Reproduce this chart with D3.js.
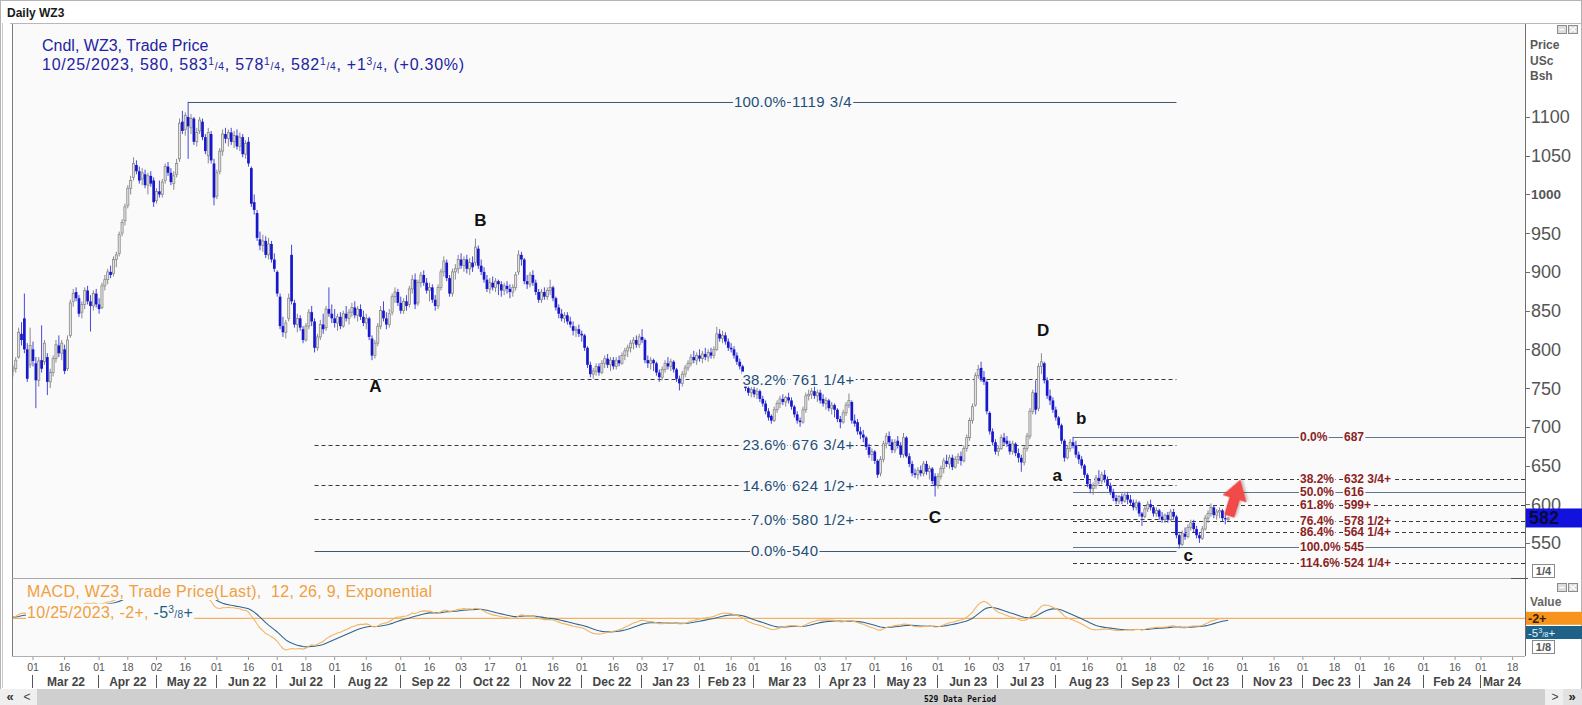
<!DOCTYPE html>
<html><head><meta charset="utf-8">
<script src="https://cdn.jsdelivr.net/npm/d3@7"></script>
<style>
html,body{margin:0;padding:0;background:#fff;}
svg{display:block;font-family:"Liberation Sans",Arial,sans-serif;}
</style></head><body>
<svg id="c" width="1582" height="705"></svg>
<script>
// ---------------- DATA ----------------
// daily candles, Feb 17 2022 .. Oct 25 2023 (trading days)
const opens = [
 772,775,790,820,840,800,780,
 800,782,760,786,784,790,758,770,788,805,795,800,775,818,862,874,866,848,858,876,862,856,872,
 858,854,882,890,900,898,916,924,950,966,986,1008,1022,1038,1030,1020,1026,1012,1024,1018,
 992,1004,1000,1018,1036,1028,1014,1026,1046,1094,1084,1100,1086,1098,1068,1082,1094,1074,1050,1078,1040,
 998,1030,1056,1078,1072,1080,1068,1076,1062,1074,1052,1068,1034,990,976,942,934,940,922,936,916,
 900,868,830,822,840,922,860,832,840,826,812,830,848,836,802,816,832,828,852,846,
 840,834,842,830,846,840,848,854,844,852,842,834,840,814,792,808,830,850,840,832,848,868,874,
 860,850,862,858,878,890,860,886,896,886,876,880,864,856,880,900,912,892,872,900,904,
 916,908,916,904,912,912,930,908,900,890,878,886,880,888,884,876,882,878,874,880,
 900,922,916,888,884,896,886,874,864,874,868,876,880,866,854,846,840,844,836,830,824,
 826,820,818,802,780,768,772,778,770,782,788,780,786,778,786,782,792,798,802,808,812,
 806,816,812,786,782,786,782,770,764,774,782,778,784,774,762,756,768,776,782,
 790,786,792,788,794,790,796,792,800,820,814,818,810,802,800,792,784,778,768,
 750,744,748,742,746,736,730,720,714,708,722,730,736,732,738,734,726,716,708,706,722,740,742,
 746,740,744,736,730,734,724,728,722,710,706,718,728,732,708,706,694,690,
 686,674,664,668,656,640,658,678,688,680,670,682,676,664,686,662,652,640,638,644,640,652,642,646,
 636,624,636,646,656,652,660,648,658,662,656,672,686,708,728,766,776,764,758,718,694,
 680,668,672,686,682,678,668,678,666,660,654,672,688,720,744,724,778,782,760,740,
 734,722,712,702,682,660,672,680,676,664,658,650,638,626,620,624,634,630,638,632,624,616,608,
 604,610,604,612,606,602,596,602,588,584,594,600,596,588,592,584,580,586,580,590,
 584,560,548,562,558,570,576,568,560,556,568,582,588,596,586,590,592,582,580
];
const highs = [
 780,790,828,835,872,808,828,
 810,790,790,831,812,795,775,792,812,818,812,806,818,864,878,880,870,862,880,882,870,876,878,
 866,886,896,904,908,920,926,952,968,988,1012,1024,1048,1044,1036,1034,1032,1028,1030,1022,
 1008,1018,1020,1040,1042,1034,1030,1046,1098,1108,1106,1119.75,1104,1100,1086,1100,1098,1078,1086,1082,1046,
 1032,1060,1084,1086,1084,1086,1082,1084,1080,1078,1070,1074,1036,1000,980,952,948,946,944,940,924,
 902,872,842,838,872,935,864,846,844,830,834,852,856,840,820,838,846,856,880,858,
 852,846,848,850,856,852,860,862,856,858,850,846,842,818,812,834,856,862,848,852,872,880,878,
 868,866,870,882,896,898,890,900,902,892,886,884,870,884,904,920,916,896,904,910,922,
 924,920,922,918,920,943,934,916,906,896,892,894,892,890,888,886,888,884,884,900,
 928,926,918,896,900,902,890,878,878,880,880,890,882,868,858,852,848,848,842,836,830,
 832,824,820,804,784,776,782,782,786,792,794,790,790,790,792,796,802,806,812,816,818,
 820,826,814,792,790,788,784,774,778,786,790,788,786,776,766,772,780,786,794,
 798,796,800,798,802,800,802,804,829,826,824,822,814,808,804,796,788,780,770,
 756,752,752,750,748,740,734,724,716,726,734,740,742,740,744,738,728,720,712,726,744,748,750,
 752,748,748,742,738,736,732,730,724,714,722,732,743,734,716,710,700,696,
 688,678,672,670,658,662,682,692,694,684,684,688,680,692,688,666,656,646,648,650,656,656,650,648,
 640,640,650,660,664,664,664,662,666,668,676,690,712,730,770,780,784,772,760,720,698,
 684,676,690,692,688,682,682,680,672,664,676,692,724,748,760,782,795,784,764,748,
 738,726,714,704,684,676,684,687,682,668,662,652,640,632,628,638,644,642,644,636,628,620,612,
 612,614,616,616,612,606,606,604,590,598,604,606,598,596,594,590,588,590,594,594,
 586,562,566,570,574,580,580,572,564,572,586,592,601,598,594,596,594,586,583.25
];
const lows = [
 765,770,788,805,795,758,776,
 778,724,752,770,780,741,750,765,783,790,786,768,772,815,855,862,842,840,852,858,823,850,854,
 846,852,876,884,892,894,906,920,946,960,982,1000,1018,1026,1014,1012,1008,1000,1010,984,
 988,996,996,1014,1024,1012,1006,1022,1042,1078,1076,1046,1078,1064,1062,1078,1070,1052,1040,1040,986,
 994,1026,1050,1066,1062,1064,1060,1058,1056,1048,1046,1036,984,974,940,928,926,918,916,912,900,
 868,826,816,814,836,858,828,822,824,808,810,826,830,796,798,812,820,824,842,834,
 828,824,826,828,836,832,842,840,836,838,830,826,812,786,788,804,826,836,826,828,844,860,856,
 846,846,850,854,872,852,856,880,882,872,862,860,850,852,876,894,888,868,868,890,898,
 904,900,898,896,900,908,904,896,886,874,872,876,874,870,868,870,872,866,868,876,
 896,908,884,878,880,882,870,860,860,864,864,870,862,850,840,836,834,832,828,818,816,
 816,810,798,776,764,762,766,766,768,776,776,772,774,774,778,780,786,790,796,800,802,
 802,808,782,776,774,772,766,758,760,770,774,772,770,758,747,752,764,772,778,
 782,780,784,782,786,784,788,788,798,810,808,806,798,796,788,780,774,764,746,
 740,738,738,736,732,726,716,708,704,706,718,724,728,726,730,722,712,704,700,704,718,734,736,
 736,732,730,726,722,720,716,712,706,698,704,714,724,704,700,690,684,680,
 670,660,656,652,634,636,654,672,676,666,666,672,660,660,660,648,636,634,632,636,636,638,632,626,
 610,620,632,640,648,646,644,646,652,650,654,668,682,704,726,762,758,754,716,690,676,
 664,662,670,676,674,664,664,662,654,642,650,668,684,716,716,720,768,756,736,728,
 718,708,698,678,655,658,668,672,660,652,646,634,622,614,612,620,626,626,628,620,612,604,600,
 600,600,602,600,598,592,592,584,572,582,590,592,584,584,580,576,576,576,578,580,
 556,543,546,554,556,566,564,556,550,554,566,576,584,582,580,582,578,574,578.25
];
const closes = [
 776,786,822,812,800,762,805,
 785,760,785,775,808,758,770,788,806,795,808,772,812,860,872,866,846,858,876,862,856,872,858,
 852,882,890,900,896,916,922,948,964,984,1008,1018,1040,1030,1018,1028,1012,1024,1014,990,
 1004,1000,1016,1036,1028,1016,1024,1040,1092,1082,1102,1088,1098,1068,1080,1096,1074,1056,1080,1044,996,
 1028,1056,1078,1072,1080,1068,1076,1062,1074,1052,1066,1040,988,980,944,934,940,922,936,916,904,
 872,830,822,834,866,862,832,840,828,812,830,848,836,802,816,832,826,852,846,840,
 834,842,830,846,840,848,854,844,852,842,834,840,816,792,808,830,850,840,832,846,868,874,860,
 850,862,856,878,890,858,886,896,886,876,880,864,856,880,900,914,892,872,900,904,916,
 908,916,904,912,906,932,908,900,890,878,886,880,888,884,876,882,878,874,880,896,
 922,916,888,884,896,886,874,864,874,868,876,880,866,854,846,840,844,836,832,824,826,
 820,818,802,780,768,772,778,770,782,788,780,786,778,786,782,792,798,802,808,812,806,
 816,812,786,782,786,782,770,764,774,782,778,784,774,762,756,768,776,782,790,
 786,792,788,794,790,796,792,800,820,814,818,810,802,800,792,784,778,768,750,
 744,748,742,746,736,730,720,712,708,722,730,736,732,738,734,726,716,708,706,722,740,742,746,
 740,744,734,730,734,724,728,722,710,706,718,728,734,708,704,694,690,686,
 674,664,668,656,638,658,678,688,680,670,680,676,664,686,662,652,640,638,644,640,652,642,646,630,
 624,636,646,656,652,660,648,658,662,656,672,686,708,726,766,774,762,758,720,694,680,
 668,672,686,680,678,668,678,666,660,654,672,688,720,744,722,778,784,760,740,734,
 722,712,702,682,660,672,680,676,664,658,650,638,626,620,624,634,630,638,632,624,616,608,604,
 610,604,612,606,602,596,602,588,584,594,600,596,588,592,584,580,586,580,590,584,
 560,548,562,558,570,576,568,560,556,568,582,588,596,586,590,592,582,580.5,582.25
];

// calendar (exchange holidays skipped)
const firstDay = '2022-02-17', lastCalendarDay = '2024-03-29';
const holidays = ['2022-02-21','2022-04-15','2022-05-30','2022-06-20','2022-07-04','2022-09-05','2022-11-24','2022-12-26',
  '2023-01-02','2023-01-16','2023-02-20','2023-04-07','2023-05-29','2023-06-19','2023-07-04','2023-09-04',
  '2023-11-23','2023-12-25','2024-01-15','2024-02-19'];

// axis tick labels
const priceTicks = [550,600,650,700,750,800,850,900,950,1000,1050,1100];
const dayTicks = ['2022-03-01','2022-03-16','2022-04-01','2022-04-18','2022-05-02','2022-05-16','2022-06-01','2022-06-16',
 '2022-07-01','2022-07-18','2022-08-01','2022-08-16','2022-09-01','2022-09-16','2022-10-03','2022-10-17','2022-11-01','2022-11-16',
 '2022-12-01','2022-12-16','2023-01-03','2023-01-17','2023-02-01','2023-02-16','2023-03-01','2023-03-16','2023-04-03','2023-04-17',
 '2023-05-01','2023-05-16','2023-06-01','2023-06-16','2023-07-03','2023-07-17','2023-08-01','2023-08-16','2023-09-01','2023-09-18',
 '2023-10-02','2023-10-16','2023-11-01','2023-11-16','2023-12-01','2023-12-18','2024-01-01','2024-01-16','2024-02-01','2024-02-16',
 '2024-03-01','2024-03-18'];
const monthStarts = ['2022-03-01','2022-04-01','2022-05-02','2022-06-01','2022-07-01','2022-08-01','2022-09-01','2022-10-03',
 '2022-11-01','2022-12-01','2023-01-03','2023-02-01','2023-03-01','2023-04-03','2023-05-01','2023-06-01','2023-07-03','2023-08-01',
 '2023-09-01','2023-10-02','2023-11-01','2023-12-01','2024-01-01','2024-02-01','2024-03-01'];
const monthLabels = ['Mar 22','Apr 22','May 22','Jun 22','Jul 22','Aug 22','Sep 22','Oct 22','Nov 22','Dec 22','Jan 23','Feb 23',
 'Mar 23','Apr 23','May 23','Jun 23','Jul 23','Aug 23','Sep 23','Oct 23','Nov 23','Dec 23','Jan 24','Feb 24','Mar 24'];

// Fibonacci sets (levels in cents, spans in candle positions)
const fibLeftPct = ['100.0%','38.2%','23.6%','14.6%','7.0%','0.0%'];
const fibLeftTxt = ['1119 3/4','761 1/4+','676 3/4+','624 1/2+','580 1/2+','540'];
const fibLeftLvl = [1119.75,761.25,676.75,624.5,580.5,540];
const fibLeftDash = [false,true,true,true,true,false];
const fibLeftFrom = [61,105,105,105,105,105];
const fibLeftTo = 405;
const fibRightPct = ['0.0%','38.2%','50.0%','61.8%','76.4%','86.4%','100.0%','114.6%'];
const fibRightTxt = ['687','632 3/4+','616','599+','578 1/2+','564 1/4+','545','524 1/4+'];
const fibRightLvl = [687,632.75,616,599,578.5,564.25,545,524.25];
const fibRightDash = [false,true,false,true,true,true,false,true];
const fibRightFrom = 369;

// wave labels (candle position, price)
const waveTxt = ['A','B','C','D','a','b','c'];
const wavePos = [126.2,162.7,320.9,358.6,363.5,371.8,409.1];
const wavePrice = [752.7,967,583.5,825,637.7,711.3,534.4];
// red arrow (position, price) from -> to
const arrowFrom = [423.4,585], arrowTo = [427.2,631];

const macdLastValue = -2;

// ---------------- BUILD ----------------
const hol = new Set(holidays);
const days = [];
{
  const d = new Date(firstDay+'T00:00:00Z'), end = new Date(lastCalendarDay+'T00:00:00Z');
  for (; d <= end; d.setUTCDate(d.getUTCDate()+1)) {
    const wd = d.getUTCDay(); if (wd===0||wd===6) continue;
    const s = d.toISOString().slice(0,10); if (hol.has(s)) continue;
    days.push(s);
  }
}
const posOf = s => days.indexOf(s);
const N = closes.length;

const svg = d3.select('#c');
const L = 12, R = 1525, TOP = 24, PB = 578, MT = 579, MB = 656;
const x = d3.scaleLinear().domain([7, 423]).range([33, 33 + 416*2.873]);
const y = d3.scaleLinear().domain([540, 1100]).range([550.7, 117]);

// frame
svg.append('rect').attr('width',1582).attr('height',705).attr('fill','#fff');
svg.append('rect').attr('x',0.5).attr('y',0.5).attr('width',1581).attr('height',704).attr('fill','none').attr('stroke','#b4b4b4');
svg.append('text').attr('x',7).attr('y',17).attr('font-size',12).attr('font-weight','bold').attr('fill','#1a1a1a').text('Daily WZ3');
svg.append('line').attr('x1',10).attr('x2',1582).attr('y1',23.5).attr('y2',23.5).attr('stroke','#b8b8b8');
svg.append('line').attr('x1',2.5).attr('x2',2.5).attr('y1',23).attr('y2',688).attr('stroke','#c8c8c8');
svg.append('rect').attr('x',L).attr('y',TOP).attr('width',R-L).attr('height',MB-TOP).attr('fill','#fafafa');

const defs = svg.append('defs');
defs.append('clipPath').attr('id','cp').append('rect').attr('x',L).attr('y',TOP).attr('width',R-L).attr('height',PB-TOP);
defs.append('clipPath').attr('id','cm').append('rect').attr('x',L).attr('y',MT).attr('width',R-L).attr('height',MB-MT);
const f = defs.append('filter').attr('id','sh').attr('x','-50%').attr('y','-50%').attr('width','200%').attr('height','200%');
f.append('feDropShadow').attr('dx',1.5).attr('dy',1.5).attr('stdDeviation',1.2).attr('flood-color','#000').attr('flood-opacity',0.25);

// helper: text with optional background
function label(g, tx, ty, txt, o) {
  const t = g.append('text').attr('x',tx).attr('y',ty).attr('dy','0.35em')
    .attr('font-size',o.size).attr('font-weight',o.weight||'normal').attr('fill',o.fill)
    .attr('letter-spacing',o.ls||0).attr('text-anchor',o.anchor||'start').text(txt);
  if (o.bg) {
    const b = t.node().getBBox();
    g.insert('rect',function(){return t.node();}).attr('x',b.x-1).attr('y',b.y+1).attr('width',b.width+2).attr('height',b.height-2).attr('fill',o.bg);
  }
  return t;
}
function rich(g, tx, ty, parts, size, bg, ls) {
  const t = g.append('text').attr('x',tx).attr('y',ty).attr('font-size',size).attr('letter-spacing',ls||0);
  parts.forEach(p => {
    if (p.f) {
      t.append('tspan').attr('font-size',size*0.64).attr('dy',-size*0.33).attr('fill',p.c).text(p.f[0]);
      t.append('tspan').attr('font-size',size*0.64).attr('dy',size*0.33).attr('fill',p.c).text('/'+p.f[1]);
    } else t.append('tspan').attr('fill',p.c).text(p.t);
  });
  if (bg) {
    const b = t.node().getBBox();
    g.insert('rect',function(){return t.node();}).attr('x',b.x-1).attr('y',b.y).attr('width',b.width+2).attr('height',b.height).attr('fill',bg);
  }
  return t;
}

// ---------- price panel ----------
const gP = svg.append('g').attr('clip-path','url(#cp)');

// fib lines
const gFib = gP.append('g');
fibLeftLvl.forEach((lv,i) => {
  gFib.append('line').attr('x1',x(fibLeftFrom[i])).attr('x2',x(fibLeftTo)).attr('y1',Math.round(y(lv))+0.5).attr('y2',Math.round(y(lv))+0.5)
    .attr('stroke',fibLeftDash[i]?'#3a3a3a':'#3f586e').attr('stroke-width',1).attr('stroke-dasharray',fibLeftDash[i]?'4,3':null);
});
fibRightLvl.forEach((lv,i) => {
  gFib.append('line').attr('x1',x(fibRightFrom)).attr('x2',R).attr('y1',Math.round(y(lv))+0.5).attr('y2',Math.round(y(lv))+0.5)
    .attr('stroke',fibRightDash[i]?'#3a3a3a':'#5d7790').attr('stroke-width',1).attr('stroke-dasharray',fibRightDash[i]?'4,3':null);
});

// candles
const gC = gP.append('g');
const idx = d3.range(N);
const isUp = i => closes[i] >= opens[i];
gC.selectAll('line.w').data(idx).join('line').attr('class','w')
  .attr('x1',i=>x(i)).attr('x2',i=>x(i)).attr('y1',i=>y(highs[i])).attr('y2',i=>y(lows[i]))
  .attr('stroke',i=>isUp(i)?'#8a8a8a':'#4848d8').attr('stroke-width',1);
gC.selectAll('rect.b').data(idx).join('rect').attr('class','b')
  .attr('x',i=>isUp(i)?x(i)-1.05:x(i)-1.35)
  .attr('width',i=>isUp(i)?2.1:2.7)
  .attr('y',i=>y(Math.max(opens[i],closes[i])))
  .attr('height',i=>Math.max(1,y(Math.min(opens[i],closes[i]))-y(Math.max(opens[i],closes[i]))))
  .attr('fill',i=>isUp(i)?'#e2e2e2':'#1717cc')
  .attr('stroke',i=>isUp(i)?'#858585':'none').attr('stroke-width',0.75);

// fib labels (drawn above candles)
const gFibL = gP.append('g');
fibLeftLvl.forEach((lv,i) => {
  label(gFibL, 786, y(lv), fibLeftPct[i], {size:15, fill:'#1f4e79', anchor:'end', bg:'#fafafa', ls:0.2});
  label(gFibL, 792, y(lv), fibLeftTxt[i], {size:15, fill:'#1f4e79', bg:'#fafafa', ls:0.5});
});
fibRightLvl.forEach((lv,i) => {
  label(gFibL, 1300, y(lv), fibRightPct[i], {size:12, weight:'bold', fill:'#8b1f1f', bg:'#fafafa'});
  label(gFibL, 1344, y(lv), fibRightTxt[i], {size:12, weight:'bold', fill:'#8b1f1f', bg:'#fafafa'});
});

// wave labels
waveTxt.forEach((t,i) => {
  gP.append('text').attr('x',x(wavePos[i])).attr('y',y(wavePrice[i])).attr('dy','0.36em').attr('text-anchor','middle')
    .attr('font-size',17).attr('font-weight','bold').attr('fill','#111').text(t);
});

// red arrow
{
  const x0 = x(arrowFrom[0]), y0 = y(arrowFrom[1]), x1 = x(arrowTo[0]), y1 = y(arrowTo[1]);
  const len = Math.hypot(x1-x0, y1-y0), ang = Math.atan2(y1-y0, x1-x0)*180/Math.PI;
  const hl = 19, sw = 5, hw = 12;
  const pts = [[0,-sw],[len-hl,-sw],[len-hl,-hw],[len,0],[len-hl,hw],[len-hl,sw],[0,sw]];
  gP.append('polygon').attr('points',pts.map(p=>p.join(',')).join(' '))
    .attr('transform',`translate(${x0},${y0}) rotate(${ang})`)
    .attr('fill','#f24a4a').attr('stroke','#e23636').attr('stroke-width',0.6).attr('filter','url(#sh)');
}

// header texts
const blue = '#2323a3';
rich(svg, 42, 51, [{t:'Cndl, WZ3, Trade Price', c:blue}], 16);
rich(svg, 42, 70, [{t:'10/25/2023, 580, 583',c:blue},{f:[1,4],c:blue},{t:', 578',c:blue},{f:[1,4],c:blue},
  {t:', 582',c:blue},{f:[1,4],c:blue},{t:', +1',c:blue},{f:[3,4],c:blue},{t:', (+0.30%)',c:blue}], 16, null, 0.75);

// ---------- MACD ----------
function ema(a, n) { const k = 2/(n+1); const out = []; let p = a[0]; a.forEach((v,i)=>{ p = i===0 ? v : v*k + p*(1-k); out.push(p); }); return out; }
const e12 = ema(closes,12), e26 = ema(closes,26);
const macd = e12.map((v,i)=>v-e26[i]);
const signal = ema(macd,9);
const yM = d3.scaleLinear().domain([macdLastValue, d3.min(macd)]).range([618.3, 650]);
const gM = svg.append('g').attr('clip-path','url(#cm)');
gM.append('line').attr('x1',L).attr('x2',R).attr('y1',yM(macdLastValue)).attr('y2',yM(macdLastValue)).attr('stroke','#f0a040').attr('stroke-width',1);
gM.append('path').attr('d',d3.line().x((d,i)=>x(i)).y(d=>yM(d))(signal)).attr('fill','none').attr('stroke','#2f6690').attr('stroke-width',1.1);
gM.append('path').attr('d',d3.line().x((d,i)=>x(i)).y(d=>yM(d))(macd)).attr('fill','none').attr('stroke','#f2b463').attr('stroke-width',1.1);
rich(gM, 27, 597, [{t:'MACD, WZ3, Trade Price(Last),\u00a0\u00a012, 26, 9, Exponential', c:'#f0a040'}], 16, '#fafafa', 0.3);
rich(gM, 27, 618, [{t:'10/25/2023, -2+, ', c:'#f0a040'},{t:'-5',c:'#1f5f85'},{f:[3,8],c:'#1f5f85'},{t:'+',c:'#1f5f85'}], 16, '#fafafa', 0.3);

// ---------- panel lines ----------
svg.append('line').attr('x1',12.5).attr('x2',12.5).attr('y1',TOP).attr('y2',MB).attr('stroke','#7a7a7a');
svg.append('line').attr('x1',L).attr('x2',R).attr('y1',PB+0.5).attr('y2',PB+0.5).attr('stroke','#a8a8a8');
svg.append('line').attr('x1',L).attr('x2',R).attr('y1',MB+0.5).attr('y2',MB+0.5).attr('stroke','#b0b0b0');
svg.append('line').attr('x1',R+0.5).attr('x2',R+0.5).attr('y1',TOP).attr('y2',PB).attr('stroke','#6e6e6e');
svg.append('line').attr('x1',R+0.5).attr('x2',R+0.5).attr('y1',MT).attr('y2',MB).attr('stroke','#6e6e6e');
svg.append('line').attr('x1',R-14).attr('x2',R+3).attr('y1',PB+0.5).attr('y2',PB+0.5).attr('stroke','#555');

// ---------- right price axis ----------
const gA = svg.append('g');
['Price','USc','Bsh'].forEach((t,i)=> gA.append('text').attr('x',1530).attr('y',49+i*15.5).attr('font-size',12).attr('font-weight','bold').attr('fill','#5a5a5a').text(t));
priceTicks.forEach(p => {
  gA.append('line').attr('x1',R).attr('x2',R+5).attr('y1',Math.round(y(p))+0.5).attr('y2',Math.round(y(p))+0.5).attr('stroke','#6e6e6e');
  const bold = p===1000;
  gA.append('text').attr('x',1531).attr('y',y(p)).attr('dy','0.36em').attr('font-size',bold?13.5:18).attr('font-weight',bold?'bold':'normal')
    .attr('fill','#555').text(p);
});
// last price box (covers part of the 600 label as in the original)
gA.append('rect').attr('x',R+1).attr('y',y(closes[N-1])-9.5).attr('width',1582-R-1).attr('height',19).attr('fill','#1212dc');
gA.append('text').attr('x',1529).attr('y',y(closes[N-1])).attr('dy','0.36em').attr('font-size',18).attr('font-weight','bold').attr('fill','#0a0a3a').text('582');
function smallBox(bx, by, t) {
  gA.append('rect').attr('x',bx+0.5).attr('y',by+0.5).attr('width',22).attr('height',13).attr('fill','#fff').attr('stroke','#8a8a8a');
  gA.append('text').attr('x',bx+11.5).attr('y',by+11).attr('text-anchor','middle').attr('font-size',11).attr('font-weight','bold').attr('fill','#555').text(t);
}
smallBox(1532, 564, '1/4');
function icons(iy) {
  gA.append('rect').attr('x',1557.5).attr('y',iy+0.5).attr('width',9).attr('height',8).attr('fill','#dcdcdc').attr('stroke','#8c8c8c');
  gA.append('line').attr('x1',1559.5).attr('x2',1564.5).attr('y1',iy+4.5).attr('y2',iy+4.5).attr('stroke','#fff').attr('stroke-width',1.5);
  gA.append('rect').attr('x',1568.5).attr('y',iy+0.5).attr('width',9).attr('height',8).attr('fill','#dcdcdc').attr('stroke','#8c8c8c');
  gA.append('path').attr('d',`M1570,${iy+2}L1576,${iy+7}M1576,${iy+2}L1570,${iy+7}`).attr('stroke','#fff').attr('stroke-width',1.3);
}
icons(25); icons(583);
gA.append('text').attr('x',1530).attr('y',606).attr('font-size',12).attr('font-weight','bold').attr('fill','#666').text('Value');
gA.append('rect').attr('x',R+1).attr('y',611.8).attr('width',1582-R-1).attr('height',13).attr('fill','#f7941d');
gA.append('text').attr('x',1528).attr('y',622.5).attr('font-size',12.5).attr('font-weight','bold').attr('fill','#3a1f00').text('-2+');
gA.append('rect').attr('x',R+1).attr('y',626).attr('width',1582-R-1).attr('height',13).attr('fill','#1f6288');
rich(gA, 1528, 636.5, [{t:'-5',c:'#e6f4ff'},{f:[3,8],c:'#e6f4ff'},{t:'+',c:'#e6f4ff'}], 11.5);
smallBox(1532, 640, '1/8');

// ---------- time axis ----------
const gX = svg.append('g');
dayTicks.forEach(d => {
  const px = x(posOf(d));
  gX.append('line').attr('x1',px).attr('x2',px).attr('y1',657).attr('y2',660).attr('stroke','#9a9a9a');
  gX.append('text').attr('x',px).attr('y',671).attr('text-anchor','middle').attr('font-size',10.5).attr('fill','#555').text(d.slice(8));
});
monthStarts.forEach((d,i) => {
  const p0 = x(posOf(d));
  const last = i === monthStarts.length-1;
  const p1 = last ? R : x(posOf(monthStarts[i+1]));
  gX.append('line').attr('x1',Math.round(p0)-0.5).attr('x2',Math.round(p0)-0.5).attr('y1',675).attr('y2',688).attr('stroke','#555');
  gX.append('text').attr('x',last ? p0+2 : (p0+p1)/2).attr('y',685.5).attr('text-anchor',last?'start':'middle')
    .attr('font-size',12).attr('font-weight','bold').attr('fill','#444').text(monthLabels[i]);
});

// ---------- scrollbar ----------
svg.append('rect').attr('x',0).attr('y',689).attr('width',1582).attr('height',16).attr('fill','#efefef');
svg.append('rect').attr('x',37).attr('y',689).attr('width',1508).attr('height',16).attr('fill','#cfcfcf');
svg.append('text').attr('x',10).attr('y',701).attr('text-anchor','middle').attr('font-size',13).attr('font-weight','bold').attr('fill','#333').text('«');
svg.append('text').attr('x',27).attr('y',701).attr('text-anchor','middle').attr('font-size',12).attr('fill','#444').text('<');
svg.append('text').attr('x',1555).attr('y',701).attr('text-anchor','middle').attr('font-size',12).attr('fill','#444').text('>');
svg.append('rect').attr('x',1563).attr('y',689).attr('width',19).attr('height',16).attr('fill','#e2e2e2');
svg.append('text').attr('x',1572).attr('y',701).attr('text-anchor','middle').attr('font-size',13).attr('font-weight','bold').attr('fill','#222').text('»');
svg.append('text').attr('x',960).attr('y',701.5).attr('text-anchor','middle').attr('font-family','"DejaVu Sans Mono",monospace')
  .attr('font-size',8).attr('font-weight','bold').attr('fill','#111').text('529 Data Period');
</script></body></html>
